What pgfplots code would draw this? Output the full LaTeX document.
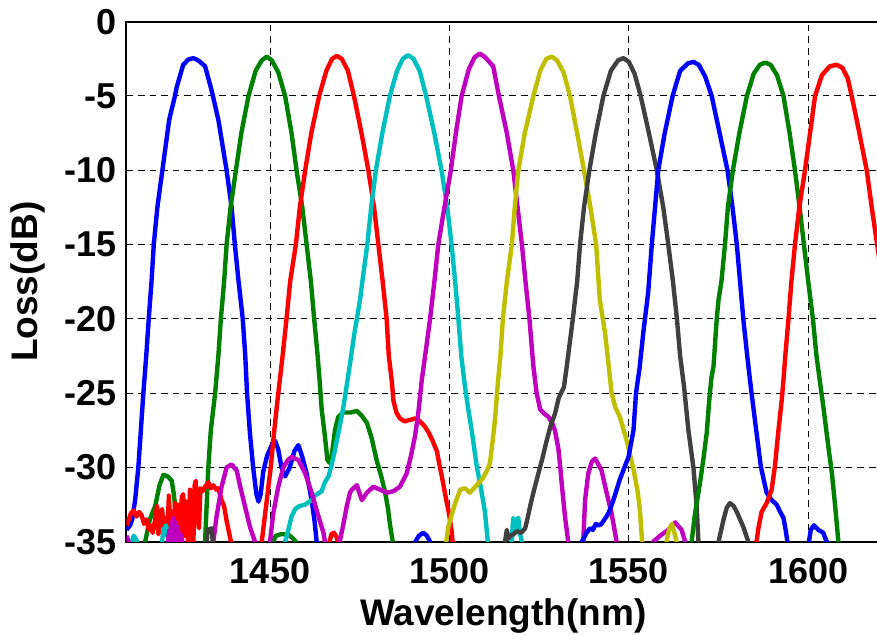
\documentclass[border=0pt]{standalone}
\usepackage{fontspec}
\setmainfont{Liberation Sans}
\usepackage{pgfplots}
\pgfplotsset{compat=1.18}

\definecolor{cblue}{rgb}{0,0,1}
\definecolor{cgreen}{rgb}{0,0.5,0}
\definecolor{cred}{rgb}{1,0,0}
\definecolor{ccyan}{rgb}{0,0.75,0.75}
\definecolor{cmag}{rgb}{0.75,0,0.75}
\definecolor{cyel}{rgb}{0.75,0.75,0}
\definecolor{cgray}{rgb}{0.25,0.25,0.25}

\begin{document}
\begin{tikzpicture}
\begin{axis}[
  scale only axis, width=376.75pt, height=260pt,
  xmin=1410, xmax=1620, ymin=-35, ymax=0,
  xtick={1450,1500,1550,1600}, xticklabels={1450,1500,1550,1600},
  ytick={-35,-30,-25,-20,-15,-10,-5,0},
  yticklabels={-35,-30,-25,-20,-15,-10,-5,0},
  grid=major,
  major grid style={black, line width=0.5pt, dash pattern=on 3.3pt off 2.5pt},
  major tick length=0pt,
  axis line style={black, line width=1pt},
  tick label style={font=\bfseries\fontsize{18}{18}\selectfont},
  xticklabel style={inner sep=0pt, anchor=north, yshift=-8.3pt},
  yticklabel style={inner sep=0pt, anchor=east, xshift=-5pt},
  xlabel={Wavelength(nm)}, ylabel={Loss(dB)},
  label style={font=\bfseries\fontsize{18.5}{18.5}\selectfont},
  xlabel style={at={(axis description cs:0.5,-0.108)}, anchor=north, inner sep=0pt},
  ylabel style={at={(axis description cs:-0.107,0.5)}, anchor=south, inner sep=0pt},
  every axis plot/.append style={line width=2.2pt, line join=round, no markers},
]
% channel 1 (blue)
\addplot[cblue] coordinates {
(1410,-34.2)(1411,-33.9)(1411.6,-33.5)(1412.4,-32.2)(1413.3,-30)(1414,-27.5)(1414.7,-25)
(1415.5,-22.5)(1416.2,-20)(1417,-17.4)(1417.6,-15)(1418.6,-12.5)(1420,-10)(1421.9,-6.6)
(1423.5,-5)(1424.0,-4.4)(1425.8,-2.9)(1427.2,-2.55)(1428.6,-2.45)(1430,-2.6)(1431.9,-3.0)
(1433.7,-4.6)(1435.6,-6.6)(1437.9,-10)(1439.3,-12.5)(1440.2,-15)(1441.2,-17.4)(1442.4,-20)
(1443.1,-22.5)(1443.6,-25)(1444.4,-27.7)(1445.3,-30)(1446.2,-31.8)(1446.8,-32.3)(1447.4,-31.8)
(1448.1,-30.3)(1449.2,-29.2)(1450.5,-28.5)(1451.4,-28.2)(1452.3,-28.8)(1453.2,-30)(1454.2,-30.6)
(1455.5,-30.0)(1456.8,-28.9)(1457.9,-28.5)(1459,-29.3)(1460.2,-30.4)(1461.6,-32.2)(1462.4,-33.6)
(1463,-35)(1463.5,-37)(1490.2,-37)(1490.5,-35)(1491.5,-34.6)(1492.7,-34.4)(1493.7,-34.6)
(1494.6,-35)(1495,-37)};
% channel 2 (green)
\addplot[cgreen] coordinates {
(1414.8,-37)(1415.2,-35)(1416.5,-33.5)(1418,-32.6)(1419.2,-31.2)(1420.3,-30.5)(1421.5,-30.6)
(1422.6,-30.9)(1423.2,-31.8)(1423.8,-33.2)(1424.4,-34.1)(1424.9,-35)(1425.2,-37)
(1431.5,-37)(1431.9,-35)(1432.8,-30)(1433.5,-27.5)(1434.7,-25)(1435.6,-22.5)(1436.3,-20)
(1437.2,-17.5)(1437.9,-15)(1439,-12.5)(1440.5,-10)(1442,-7.5)(1444,-5)(1446,-3.3)(1447.7,-2.6)
(1449.1,-2.35)(1450.5,-2.6)(1452.3,-3.4)(1454.2,-5)(1456,-7.5)(1457.4,-10)(1459,-12.5)
(1460.2,-15)(1461.4,-17.5)(1462.3,-20)(1463.2,-22.3)(1463.8,-24.1)(1464.4,-26.1)(1465.3,-27.9)
(1466.0,-29.5)(1466.6,-29.7)(1467.2,-29.2)(1468.1,-27.5)(1469.0,-26.6)(1470.4,-26.3)(1472.5,-26.3)
(1474.2,-26.2)(1475.5,-26.5)(1477,-27)(1478.3,-28)(1479.7,-29.5)(1481,-30.6)(1482.1,-31.7)
(1482.9,-32.8)(1483.4,-33.8)(1484.2,-35)(1484.5,-37)};
\addplot[cgreen] coordinates {
(1450.6,-37)(1450.9,-35)(1451.6,-34.6)(1453,-34.5)(1455,-34.5)(1456.5,-34.8)(1457.2,-35)(1457.5,-37)};
% channel 3 (red)
\addplot[cred] coordinates {
(1410,-33.9)(1410.5,-33.6)(1411.2,-33.1)(1412,-32.9)(1412.8,-33.3)(1413.5,-33.0)(1414.2,-33.2)
(1414.9,-33.8)(1415.6,-33.5)(1416.2,-34.2)(1416.7,-33.9)(1417.3,-34.4)(1418,-33.5)(1418.5,-32.6)
(1418.9,-34.5)(1419.5,-33.6)(1419.9,-32.8)(1420.4,-34.0)(1420.9,-33.4)(1421.4,-34.6)(1421.8,-31.9)
(1422.2,-33.9)(1422.7,-33.0)(1423.1,-34.8)(1423.5,-32.4)(1424,-35.5)(1424.4,-32.5)(1424.9,-35.5)
(1425.4,-32.0)(1425.8,-31.8)(1426.2,-34.6)(1426.7,-32.3)(1427.2,-35.5)(1427.7,-31.5)(1428.2,-33.0)
(1428.6,-35.5)(1429,-31.2)(1429.3,-30.9)(1429.8,-33.5)(1430.2,-34.1)(1430.6,-31.4)(1431.2,-31.6)
(1431.9,-31.3)(1432.8,-31.0)(1433.5,-31.4)(1434.2,-31.2)(1435,-31.5)(1435.6,-31.4)(1436.5,-32.2)
(1437.2,-32.6)(1437.9,-33.6)(1438.6,-34.4)(1439.1,-35)(1439.4,-37)
(1447.3,-37)(1447.7,-35)(1449.1,-32.2)(1450.2,-30)(1451.1,-27.7)(1452.3,-25)(1453.5,-22.5)
(1454.6,-20)(1455.6,-17.5)(1457.2,-15)(1458.3,-12.5)(1459.8,-10)(1461.5,-7.5)(1463.7,-5)
(1465.7,-3.3)(1467.3,-2.5)(1468.6,-2.3)(1470,-2.5)(1471.7,-3.3)(1473.4,-5)(1475.5,-7.5)
(1477.4,-10)(1479,-12.5)(1480.2,-15)(1481.4,-17.5)(1482.5,-20)(1483.1,-22.5)(1483.9,-24.1)
(1484.4,-25.5)(1485.2,-26.3)(1486.2,-26.7)(1487.5,-26.9)(1489,-26.8)(1490.5,-26.7)(1491.8,-26.9)
(1493,-27.2)(1494.1,-27.6)(1495.3,-28.2)(1496.5,-28.9)(1497.2,-29.8)(1497.8,-30.5)(1498.5,-31.4)
(1499.2,-32.3)(1499.8,-33)(1500.2,-33.6)(1500.6,-34.3)(1500.9,-35)(1501.1,-37)};
\addplot[cred] coordinates {
(1466.3,-37)(1466.6,-35)(1467.1,-34.5)(1467.8,-34.4)(1468.6,-34.7)(1468.9,-35)(1469.2,-37)};
% channel 4 (cyan)
\addplot[ccyan] coordinates {
(1411.2,-37)(1411.5,-35)(1412,-34.6)(1412.6,-34.8)(1413,-35)(1413.3,-37)
(1419.6,-37)(1419.9,-35)(1420.3,-34.2)(1421,-33.9)(1421.6,-34.6)(1421.9,-35)(1422.2,-37)
(1453.8,-37)(1454.2,-35)(1455.1,-34.2)(1456,-33.3)(1457,-32.8)(1458.2,-32.6)(1459.8,-32.5)
(1461.6,-32.2)(1462.5,-31.9)(1464.4,-31.6)(1465.3,-31.0)(1466.3,-30.6)(1467.2,-29.8)(1468.1,-28.8)
(1469.2,-27.5)(1470.4,-26)(1471.3,-24.6)(1472.3,-23)(1473.5,-21)(1475.1,-18.7)(1476,-17)
(1477.1,-15)(1478.2,-12.5)(1479.5,-10)(1481.3,-7.5)(1483.4,-5)(1485.4,-3.3)(1487,-2.5)
(1488.5,-2.25)(1490,-2.5)(1491.7,-3.3)(1493.5,-5)(1495.8,-7.5)(1497.8,-10)(1499.4,-12.5)
(1500.6,-15)(1501.6,-17.5)(1502.5,-20)(1503.3,-22.5)(1504.3,-24.5)(1505.2,-26)(1506.2,-27.5)
(1507.6,-29.9)(1509,-31.7)(1509.9,-33)(1510.7,-35)(1511,-37)
(1517.1,-37)(1517.4,-35)(1517.6,-34.0)(1517.8,-33.4)(1518.3,-34.2)(1518.8,-33.5)(1519.2,-33.4)
(1519.6,-34.4)(1520.2,-35)(1520.5,-37)};
% channel 5 (magenta)
\addplot[cmag] coordinates {
(1410,-34.6)(1410.6,-35)(1411,-37)
(1421.2,-37)(1421.5,-35)(1422.0,-34.2)(1422.3,-35.2)(1422.7,-33.8)(1423.0,-33.4)(1423.3,-34.9)
(1423.6,-33.7)(1424,-35.3)(1424.3,-34.0)(1424.7,-35.3)(1425.1,-34.5)(1425.6,-35)(1425.9,-37)
(1433.8,-37)(1434.2,-35)(1435.1,-33.3)(1436.5,-31.3)(1437.9,-30)(1439.3,-29.8)(1440.7,-30.2)
(1441.6,-31.2)(1442.6,-32.2)(1443.5,-33.1)(1444.4,-34)(1445.8,-35)(1446.1,-37)
(1449.7,-37)(1450,-35)(1450.9,-33.1)(1452.3,-31.3)(1453.7,-30)(1455,-29.5)(1456,-29.3)
(1457.9,-29.5)(1459.8,-30.4)(1461.6,-31.7)(1463.5,-33.3)(1464.9,-34.4)(1465.3,-35)(1465.6,-37)
(1469.2,-37)(1469.5,-34.9)(1470.3,-34)(1471.4,-32.6)(1472.3,-31.7)(1472.8,-31.5)(1474.2,-31.2)
(1475.6,-32.2)(1477,-31.7)(1478.8,-31.3)(1480.7,-31.5)(1482.5,-31.7)(1484.4,-31.6)(1486.2,-31.3)
(1488.1,-30.4)(1489.3,-29.2)(1490.4,-27.9)(1491.3,-26.4)(1492.3,-24.1)(1493.5,-22)(1494.6,-20)
(1495.8,-17.5)(1496.9,-15)(1498.6,-12.5)(1500.4,-10)(1501.8,-7.5)(1503.4,-5)(1505.4,-3.2)
(1507,-2.4)(1508.5,-2.15)(1510,-2.4)(1512.2,-3.0)(1513.8,-5)(1516,-7.5)(1517.8,-10)(1519,-12.5)
(1520.2,-15)(1521.2,-17.5)(1522.3,-20)(1523.4,-23.2)(1524.3,-25)(1525.3,-26.1)(1526.5,-26.4)
(1527.6,-26.6)(1528.6,-27)(1529.4,-27.5)(1530.4,-28.8)(1530.9,-30)(1531.3,-31.1)(1532.2,-33.3)
(1533.1,-35)(1533.4,-37)
(1537,-37)(1537.3,-35)(1537.8,-32.2)(1538.7,-30.4)(1539.7,-29.6)(1540.6,-29.4)(1541.5,-29.8)
(1542.4,-30.2)(1543.8,-31.7)(1545.2,-33.1)(1546.6,-35)(1546.9,-37)
(1556.5,-37)(1556.8,-35)(1558.7,-34.6)(1561,-34.2)(1562.9,-33.7)(1564.7,-34.2)(1565.7,-35)(1566,-37)};
% channel 6 (yellow)
\addplot[cyel] coordinates {
(1498.8,-37)(1499.1,-35)(1499.7,-34)(1500.6,-33.2)(1501.6,-32.4)(1503,-31.5)(1504.3,-31.4)
(1505.7,-31.7)(1507.6,-31.2)(1509.4,-30.7)(1510.5,-30.2)(1511.3,-29.7)(1512,-28.3)(1512.7,-26.8)
(1513.4,-24.6)(1514.2,-22.5)(1514.9,-20)(1516,-17.5)(1517.4,-15)(1518.2,-12.5)(1519.2,-10)
(1521,-7.5)(1523.4,-5)(1525.3,-3.3)(1527,-2.5)(1528.5,-2.35)(1530,-2.6)(1531.8,-3.4)(1533.6,-5)
(1535.6,-7.5)(1537.5,-10)(1539.3,-12.5)(1540.9,-15)(1541.9,-18.7)(1543.4,-21)(1544.4,-23.2)
(1545.2,-25)(1546.3,-26)(1547.5,-26.6)(1549.4,-28.2)(1550.6,-29.4)(1551.6,-30.5)(1552.5,-31.7)
(1553.1,-32.9)(1553.7,-35)(1554,-37)
(1560.2,-37)(1560.5,-35)(1561.2,-34.2)(1562,-33.8)(1562.7,-34.4)(1563.3,-35)(1563.6,-37)};
% channel 7 (dark grey)
\addplot[cgray] coordinates {
(1432.2,-37)(1432.4,-35)(1432.6,-34.2)(1433.8,-34.1)(1434,-35)(1434.2,-37)
(1515.3,-37)(1515.5,-35)(1516,-34.2)(1516.4,-34.8)(1516.9,-34.6)(1517.8,-34.5)(1518.8,-34.3)
(1520,-34.4)(1521.1,-34.1)(1521.8,-33.4)(1522.5,-32.6)(1523.6,-31.5)(1524.8,-30.4)(1526,-29.3)
(1527.1,-28.2)(1528.2,-27.2)(1529.4,-26.4)(1530.5,-25.3)(1531.9,-24.6)(1532.7,-23.2)
(1533.6,-21.5)(1534.4,-20)(1535.1,-18.5)(1535.6,-17.5)(1536.4,-15)(1537.5,-12.5)(1539,-10)
(1540.8,-7.5)(1542.9,-5)(1545,-3.3)(1547,-2.6)(1548.5,-2.45)(1550,-2.7)(1551.6,-3.5)(1553.3,-5)
(1555.6,-7.5)(1557.8,-10)(1559.6,-12.5)(1561,-15)(1562.3,-17.5)(1563.4,-20)(1564.3,-22.5)
(1565.4,-24.6)(1566.6,-27.5)(1568,-30)(1568.9,-32.6)(1569.4,-35)(1569.6,-37)
(1574.8,-37)(1575,-35)(1576.4,-33.5)(1577.3,-32.7)(1578.2,-32.4)(1579.2,-32.6)(1580.1,-33)
(1581.9,-34)(1583.3,-35)(1583.5,-37)};
% channel 8 (blue)
\addplot[cblue] coordinates {
(1536.6,-37)(1536.9,-35)(1538.2,-34.4)(1539.2,-34.1)(1540,-34.2)(1540.8,-33.8)(1541.6,-33.9)
(1542.4,-33.8)(1544.3,-33.1)(1545.7,-32.2)(1547.5,-30.8)(1549.9,-29.3)(1551.3,-27.5)(1552.0,-25.0)
(1553,-23.3)(1554,-21)(1554.5,-20)(1555.4,-18.2)(1556.4,-15)(1557.3,-12.5)(1558.2,-10)
(1560,-7.5)(1562.2,-5)(1564.3,-3.3)(1566.5,-2.8)(1568,-2.7)(1569.5,-2.9)(1571.3,-3.7)(1573.1,-5)
(1575.3,-7.5)(1577.5,-10)(1578.9,-12.5)(1580.1,-15)(1581,-17.5)(1581.9,-20)(1583,-22.5)
(1584.1,-24.8)(1585.5,-27.5)(1586.8,-29.95)(1588.4,-31.7)(1589.8,-32.2)(1591.2,-32.5)
(1592.2,-33)(1593.1,-33.4)(1593.7,-34.2)(1594.2,-35)(1594.4,-37)
(1599.9,-37)(1600.2,-35)(1600.7,-34.2)(1601.6,-33.9)(1602.8,-34.2)(1604.2,-34.4)(1604.8,-34.8)
(1605.2,-35)(1605.4,-37)};
% channel 9 (green)
\addplot[cgreen] coordinates {
(1567.3,-37)(1567.5,-35)(1568.5,-33)(1569.8,-31.1)(1570.8,-29.4)(1571.7,-27.7)(1572.4,-25.5)
(1573,-24)(1573.6,-23.2)(1574.5,-20)(1575,-18.7)(1575.8,-17.5)(1576.8,-15)(1577.6,-12.5)
(1579,-10)(1580.8,-7.5)(1582.9,-5)(1584.8,-3.5)(1586.5,-2.9)(1588,-2.75)(1589.5,-2.9)
(1591.3,-3.6)(1593.1,-5)(1594.8,-7.5)(1596.3,-10)(1597.6,-12.5)(1598.8,-15)(1600,-17.5)
(1601.3,-20)(1602.3,-22.5)(1603.3,-24.3)(1604.2,-25.9)(1605.6,-28.6)(1606.6,-30.4)
(1607.5,-32.6)(1608.4,-35)(1608.6,-37)};
% channel 10 (red)
\addplot[cred] coordinates {
(1585.4,-37)(1585.6,-35)(1586.1,-34.1)(1587,-33)(1588.4,-32.4)(1589.8,-31.5)(1590.7,-29.95)
(1591.7,-27.5)(1592.6,-25.5)(1593.1,-24.1)(1593.6,-22.5)(1594.5,-20)(1595.3,-17.5)(1596.3,-15)
(1597.5,-12.5)(1599.1,-10)(1600.5,-7.5)(1601.9,-5)(1603.8,-3.6)(1606,-3.0)(1607.9,-2.9)
(1609.5,-3.1)(1611,-3.8)(1612.1,-5)(1613.5,-6.6)(1616.3,-10)(1617.7,-12.5)(1618.9,-14.5)
(1620,-16.3)};
\end{axis}
\pgfresetboundingbox
\path (current axis.south west) ++(-63.25pt,-46.15pt) rectangle ++(438.5pt,317pt);
\end{tikzpicture}
\end{document}
